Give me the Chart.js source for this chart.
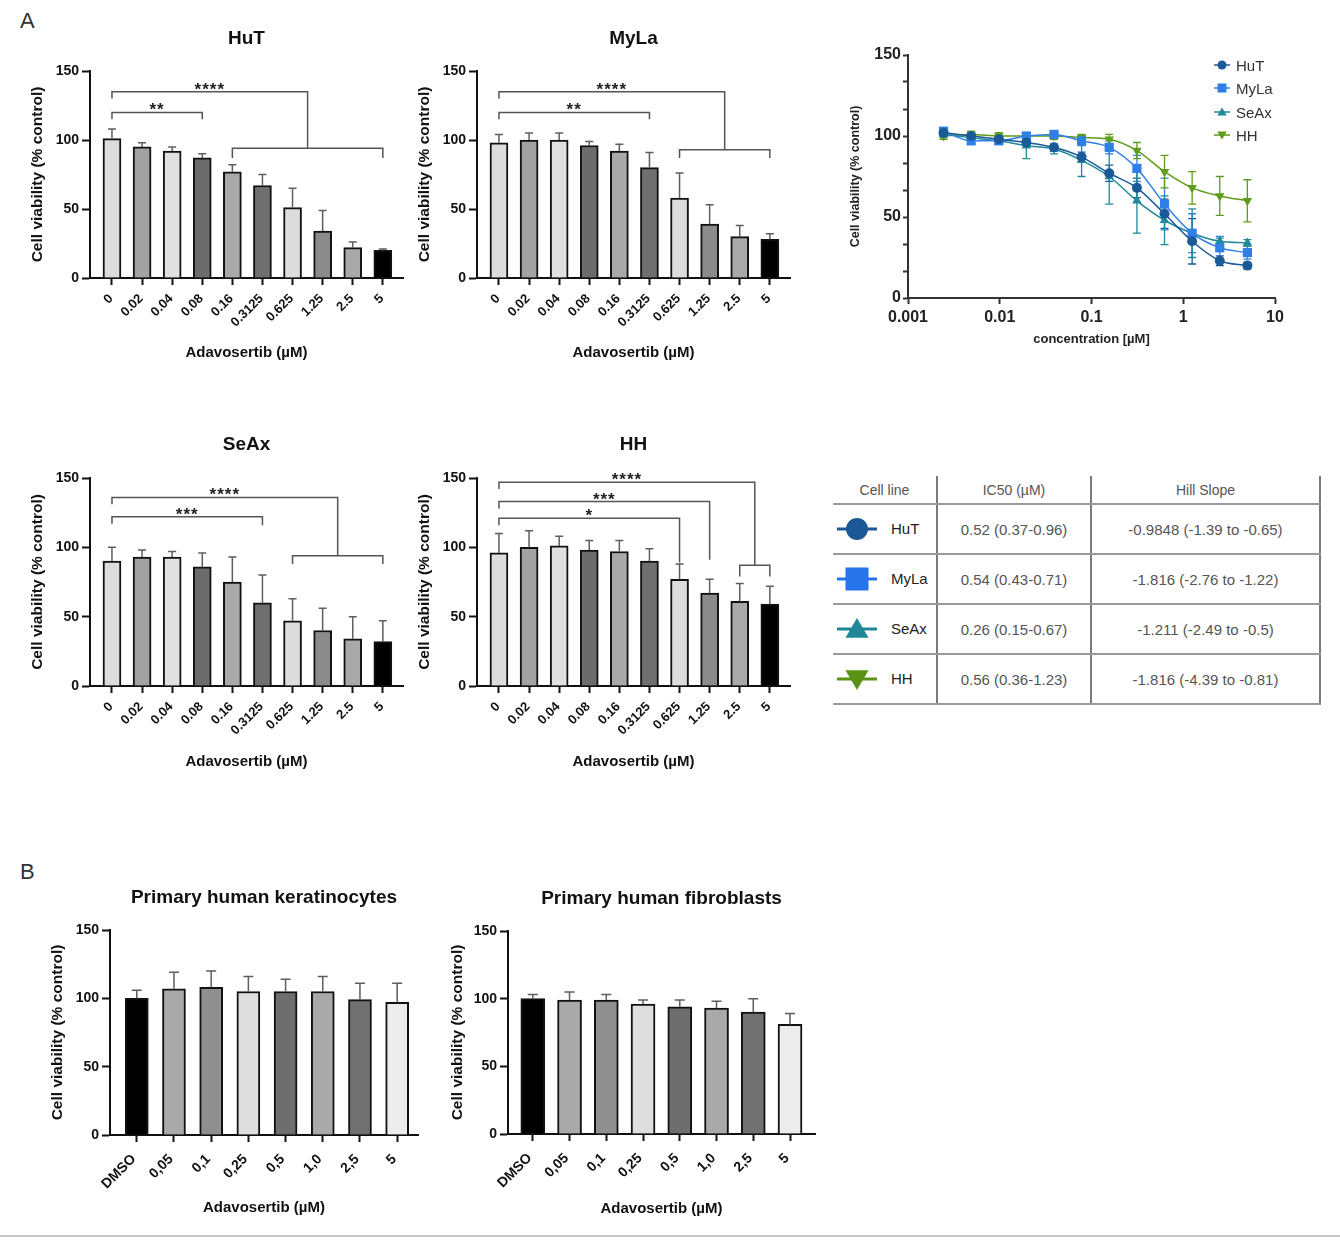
<!DOCTYPE html>
<html><head><meta charset="utf-8">
<script src="https://cdn.jsdelivr.net/npm/chart.js@4.4.1/dist/chart.umd.min.js"></script>
<style>
html,body{margin:0;padding:0;background:#fff;}
body{width:1340px;height:1245px;position:relative;overflow:hidden;font-family:"Liberation Sans",Arial,sans-serif;}
.abs{position:absolute;}
.panel-letter{position:absolute;font-size:22px;color:#333;line-height:22px;}
#tbl{position:absolute;left:833px;top:476px;border-collapse:collapse;table-layout:fixed;}
#tbl td{border-bottom:2px solid #9a9a9a;border-right:2px solid #7a7a7a;padding:0;text-align:center;color:#555;font-size:15px;}
#tbl tr.hd td{height:27px;font-size:14px;color:#555;}
#tbl tr.rw td{height:48px;}
#tbl td.nm{text-align:left;color:#222;}
.lg{position:absolute;left:1211px;height:16px;display:flex;align-items:center;font-size:15px;color:#333;}
.lg span{margin-left:3px;}
</style></head>
<body>
<div class="panel-letter" style="left:20px;top:10px;">A</div>
<div class="panel-letter" style="left:20px;top:861px;">B</div>

<canvas id="cHuT" class="abs" width="420" height="370" style="left:0px;top:0px;"></canvas>
<canvas id="cMyLa" class="abs" width="420" height="370" style="left:387px;top:0px;"></canvas>
<canvas id="cSeAx" class="abs" width="420" height="370" style="left:0px;top:406px;"></canvas>
<canvas id="cHH" class="abs" width="420" height="370" style="left:387px;top:406px;"></canvas>
<canvas id="cDR" class="abs" width="480" height="330" style="left:830px;top:30px;"></canvas>
<div id="legend"></div>
<table id="tbl"></table>
<canvas id="cKer" class="abs" width="440" height="365" style="left:0px;top:860px;"></canvas>
<canvas id="cFib" class="abs" width="400" height="365" style="left:440px;top:860px;"></canvas>
<div class="abs" style="left:0;top:1235px;width:1340px;height:2px;background:#c6c6c6;"></div>

<script>
// ================= DATA =================
const topCats = ['0','0.02','0.04','0.08','0.16','0.3125','0.625','1.25','2.5','5'];
const hutMean  = [101, 95, 92, 87, 77, 67, 51, 34, 22, 20];
const hutSD    = [7, 3, 3, 3, 5, 8, 14, 15, 4, 1];
const mylaMean = [98, 100, 100, 96, 92, 80, 58, 39, 30, 28];
const mylaSD   = [6, 5, 5, 3, 5, 11, 18, 14, 8, 4];
const seaxMean = [90, 93, 93, 86, 75, 60, 47, 40, 34, 32];
const seaxSD   = [10, 5, 4, 10, 18, 20, 16, 16, 16, 15];
const hhMean   = [96, 100, 101, 98, 97, 90, 77, 67, 61, 59];
const hhSD     = [14, 12, 7, 7, 8, 9, 11, 10, 13, 13];
const yTicks = [0, 50, 100, 150];

// significance brackets (category index span, bracket level and leg ends in % units)
const hutSig  = [{from:0,to:3,y:120,l:115,r:115,label:'**'},{from:0,to:6.5,y:135,l:130,r:94,label:'****'},{from:4,to:9,y:94,l:87,r:87,label:''}];
const mylaSig = [{from:0,to:5,y:120,l:115,r:115,label:'**'},{from:0,to:7.5,y:135,l:130,r:93,label:'****'},{from:6,to:9,y:93,l:87,r:87,label:''}];
const seaxSig = [{from:0,to:5,y:122,l:117,r:116,label:'***'},{from:0,to:7.5,y:136,l:131,r:94,label:'****'},{from:6,to:9,y:94,l:88,r:88,label:''}];
const hhSig   = [{from:0,to:6,y:121,l:116,r:89,label:'*'},{from:0,to:7,y:133,l:128,r:91,label:'***'},{from:0,to:8.5,y:147,l:142,r:87,label:'****'},{from:8,to:9,y:87,l:79,r:79,label:''}];

const bottomCats = ['DMSO','0,05','0,1','0,25','0,5','1,0','2,5','5'];
const kerMean = [100, 107, 108, 105, 105, 105, 99, 97];
const kerSD   = [6, 12, 12, 11, 9, 11, 12, 14];
const fibMean = [100, 99, 99, 96, 94, 93, 90, 81];
const fibSD   = [3, 6, 4, 3, 5, 5, 10, 8];

const drConc   = [0.00244, 0.00488, 0.00977, 0.0195, 0.039, 0.078, 0.156, 0.3125, 0.625, 1.25, 2.5, 5];
const drHuT    = [102, 100, 98, 96, 93, 87, 77, 68, 52, 35, 23, 20];
const drHuTSD  = [2, 2, 2, 2, 2, 3, 5, 6, 9, 14, 3, 2];
const drMyLa   = [103, 97, 97, 100, 101, 97, 93, 80, 58, 40, 31, 28];
const drMyLaSD = [2, 2, 2, 2, 2, 3, 4, 8, 16, 12, 7, 4];
const drSeAx   = [101, 99, 97, 94, 92, 85, 75, 60, 48, 40, 35, 34];
const drSeAxSD = [2, 2, 2, 8, 3, 10, 17, 20, 15, 15, 2, 2];
const drHH     = [100, 101, 100, 100, 100, 99, 98, 91, 78, 68, 63, 60];
const drHHSD   = [2, 2, 2, 2, 2, 2, 3, 5, 10, 10, 12, 13];
const drXTicks  = [0.001, 0.01, 0.1, 1, 10];
const drXLabels = ['0.001','0.01','0.1','1','10'];
const drYTicks  = [0, 50/3, 100/3, 50, 200/3, 250/3, 100, 350/3, 400/3, 150];
const drYLabels = ['0','','','50','','','100','','','150'];

const tblHeader = ['Cell line','IC50 (µM)','Hill Slope'];
const tblLines  = ['HuT','MyLa','SeAx','HH'];
const tblIC50   = ['0.52 (0.37-0.96)','0.54 (0.43-0.71)','0.26 (0.15-0.67)','0.56 (0.36-1.23)'];
const tblHill   = ['-0.9848 (-1.39 to -0.65)','-1.816 (-2.76 to -1.22)','-1.211 (-2.49 to -0.5)','-1.816 (-4.39 to -0.81)'];

// ================= STYLES =================
const FONT = '"Liberation Sans", Arial, sans-serif';
const topShades = ['#dcdcdc','#a2a2a2','#e0e0e0','#6c6c6c','#a9a9a9','#6f6f6f','#dcdcdc','#8b8b8b','#a9a9a9','#000000'];
const botShades = ['#000000','#a9a9a9','#8f8f8f','#dedede','#6e6e6e','#a9a9a9','#717171','#ececec'];
const lineColors = {HuT:'#1b5a98', MyLa:'#2f7fe6', SeAx:'#1f8a98', HH:'#5f9c1c'};
const tblColors  = {HuT:'#1c5896', MyLa:'#2673ea', SeAx:'#1f8796', HH:'#5a9215'};
const font = (size, weight) => ({family: FONT, size: size, weight: weight || 'bold'});

// ================= PLUGINS =================
const barErrPlugin = {
  id: 'barErr',
  afterDatasetsDraw(chart) {
    const ctx = chart.ctx, ys = chart.scales.y;
    const ds = chart.data.datasets[0], meta = chart.getDatasetMeta(0);
    ctx.save(); ctx.strokeStyle = '#5e5e5e'; ctx.lineWidth = 1.5;
    meta.data.forEach((el, i) => {
      const top = ys.getPixelForValue(ds.data[i].y + ds.sd[i]);
      ctx.beginPath();
      ctx.moveTo(el.x, el.y); ctx.lineTo(el.x, top);
      ctx.moveTo(el.x - ds.cap, top); ctx.lineTo(el.x + ds.cap, top);
      ctx.stroke();
    });
    ctx.restore();
  }
};
function bracketPlugin(list) {
  return {
    id: 'brackets',
    afterDatasetsDraw(chart) {
      const ctx = chart.ctx, xs = chart.scales.x, ys = chart.scales.y;
      ctx.save(); ctx.strokeStyle = '#555'; ctx.lineWidth = 1.5; ctx.fillStyle = '#222';
      ctx.font = 'bold 17px ' + FONT; ctx.textAlign = 'center'; ctx.textBaseline = 'alphabetic';
      if ('letterSpacing' in ctx) ctx.letterSpacing = '1px';
      list.forEach(b => {
        const x1 = xs.getPixelForValue(b.from), x2 = xs.getPixelForValue(b.to);
        const y = ys.getPixelForValue(b.y);
        ctx.beginPath();
        ctx.moveTo(x1, ys.getPixelForValue(b.l)); ctx.lineTo(x1, y); ctx.lineTo(x2, y); ctx.lineTo(x2, ys.getPixelForValue(b.r));
        ctx.stroke();
        if (b.label) ctx.fillText(b.label, (x1 + x2) / 2, y + 3);
      });
      ctx.restore();
    }
  };
}
const drErrPlugin = {
  id: 'drErr',
  beforeDatasetsDraw(chart) {
    const ctx = chart.ctx, ys = chart.scales.y;
    chart.data.datasets.forEach((ds, di) => {
      const meta = chart.getDatasetMeta(di);
      ctx.save(); ctx.strokeStyle = ds.borderColor; ctx.lineWidth = 1.3;
      meta.data.forEach((el, i) => {
        const v = ds.data[i].y, e = ds.sd[i];
        const hi = ys.getPixelForValue(v + e), lo = ys.getPixelForValue(v - e);
        ctx.beginPath();
        ctx.moveTo(el.x, hi); ctx.lineTo(el.x, lo);
        ctx.moveTo(el.x - 4, hi); ctx.lineTo(el.x + 4, hi);
        ctx.moveTo(el.x - 4, lo); ctx.lineTo(el.x + 4, lo);
        ctx.stroke();
      });
      ctx.restore();
    });
  }
};

// ================= BAR PANELS =================
function barPanel(id, c) {
  return new Chart(document.getElementById(id), {
    type: 'bar',
    data: { datasets: [{
      data: c.means.map((v, i) => ({x: i, y: v})),
      sd: c.sd, cap: c.cap,
      backgroundColor: c.shades, borderColor: '#111', borderWidth: 2,
      barThickness: c.barW, borderSkipped: 'start'
    }]},
    options: {
      responsive: false, animation: false, devicePixelRatio: 1,
      layout: { padding: { left: 0, right: c.padR, top: 0, bottom: 0 } },
      plugins: {
        legend: { display: false }, tooltip: { enabled: false },
        title: { display: true, text: c.title, fullSize: false, color: '#111', font: font(19),
                 padding: { top: c.tTop, bottom: c.tBot } }
      },
      scales: {
        x: {
          type: 'linear', min: c.xmin, max: c.xmax, offset: false,
          afterBuildTicks: s => { s.ticks = c.cats.map((_, i) => ({ value: i })); },
          afterFit: s => { s.height = c.xAxisH; },
          ticks: { autoSkip: false, minRotation: 45, maxRotation: 45, color: '#111', font: font(c.xTick),
                   padding: c.xPad, labelOffset: c.xLblOff, callback: v => c.cats[v] },
          grid: { offset: false, drawOnChartArea: false, drawTicks: true, tickLength: 7, tickColor: '#111', tickWidth: 2, color: '#111' },
          border: { display: true, color: '#111', width: 2 },
          title: { display: true, text: 'Adavosertib (µM)', color: '#111', font: font(15), padding: { top: 0, bottom: c.xtPadB } }
        },
        y: {
          min: 0, max: 150,
          afterBuildTicks: s => { s.ticks = yTicks.map(v => ({ value: v })); },
          afterFit: s => { s.width = c.yAxisW; },
          ticks: { color: '#111', font: font(14), padding: 3 },
          grid: { drawOnChartArea: false, drawTicks: true, tickLength: 8, tickColor: '#111', tickWidth: 2, color: '#111' },
          border: { display: true, color: '#111', width: 2 },
          title: { display: true, text: 'Cell viability (% control)', color: '#111', font: font(15.5), padding: { top: c.ytPad, bottom: 0 } }
        }
      }
    },
    plugins: [barErrPlugin, bracketPlugin(c.sig || [])]
  });
}

const topCommon = { cats: topCats, shades: topShades, barW: 18, cap: 4, padR: 17, yAxisW: 90, xmin: -0.73, xmax: 9.67,
                    xTick: 13, xPad: 6, xLblOff: -1, ytPad: 28.5 };
barPanel('cHuT',  Object.assign({}, topCommon, { title: 'HuT',  means: hutMean,  sd: hutSD,  sig: hutSig,  tTop: 27.6, tBot: 20.6, xAxisH: 92, xtPadB: 8 }));
barPanel('cMyLa', Object.assign({}, topCommon, { title: 'MyLa', means: mylaMean, sd: mylaSD, sig: mylaSig, tTop: 27.6, tBot: 20.6, xAxisH: 92, xtPadB: 8 }));
barPanel('cSeAx', Object.assign({}, topCommon, { title: 'SeAx', means: seaxMean, sd: seaxSD, sig: seaxSig, tTop: 27.6, tBot: 21.6, xAxisH: 90, xtPadB: 5 }));
barPanel('cHH',   Object.assign({}, topCommon, { title: 'HH',   means: hhMean,   sd: hhSD,   sig: hhSig,   tTop: 27.6, tBot: 21.6, xAxisH: 90, xtPadB: 5 }));

barPanel('cKer', { title: 'Primary human keratinocytes', cats: bottomCats, shades: botShades, means: kerMean, sd: kerSD,
  barW: 23, cap: 5, padR: 22, yAxisW: 110, xmin: -0.72, xmax: 7.56, xTick: 14, xPad: 9, xLblOff: -3, ytPad: 48.7,
  tTop: 26.6, tBot: 20.6, xAxisH: 90, xtPadB: 8 });
barPanel('cFib', { title: 'Primary human fibroblasts', cats: bottomCats, shades: botShades, means: fibMean, sd: fibSD,
  barW: 24, cap: 5, padR: 25, yAxisW: 68, xmin: -0.675, xmax: 7.68, xTick: 14, xPad: 9, xLblOff: -3, ytPad: 8.7,
  tTop: 27.6, tBot: 20.6, xAxisH: 91, xtPadB: 7 });

// ================= DOSE-RESPONSE =================
function drSet(name, vals, sd, style, radius, rot) {
  return {
    label: name, data: drConc.map((x, i) => ({ x: x, y: vals[i] })), sd: sd,
    borderColor: lineColors[name], backgroundColor: lineColors[name], borderWidth: 1.5,
    pointStyle: style, pointRadius: radius, pointRotation: rot || 0, pointBorderWidth: 0,
    cubicInterpolationMode: 'monotone', fill: false
  };
}
new Chart(document.getElementById('cDR'), {
  type: 'line',
  data: { datasets: [
    drSet('HuT', drHuT, drHuTSD, 'circle', 5),
    drSet('MyLa', drMyLa, drMyLaSD, 'rect', 6.5),
    drSet('SeAx', drSeAx, drSeAxSD, 'triangle', 5.5),
    drSet('HH', drHH, drHHSD, 'triangle', 5.5, 180)
  ]},
  options: {
    responsive: false, animation: false, devicePixelRatio: 1,
    layout: { padding: { left: 0, right: 35, top: 25, bottom: 0 } },
    plugins: { legend: { display: false }, tooltip: { enabled: false } },
    scales: {
      x: {
        type: 'logarithmic', min: 0.001, max: 10,
        afterBuildTicks: s => { s.ticks = drXTicks.map(v => ({ value: v })); },
        afterFit: s => { s.height = 62; },
        ticks: { autoSkip: false, maxRotation: 0, minRotation: 0, color: '#222', font: font(16), padding: 4,
                 callback: (v, i) => drXLabels[i] },
        grid: { drawOnChartArea: false, drawTicks: true, tickLength: 6, tickColor: '#333', tickWidth: 2, color: '#333' },
        border: { display: true, color: '#333', width: 2 },
        title: { display: true, text: 'concentration [µM]', color: '#222', font: font(13), padding: { top: 0, bottom: 13 } }
      },
      y: {
        min: 0, max: 150,
        afterBuildTicks: s => { s.ticks = drYTicks.map(v => ({ value: v })); },
        afterFit: s => { s.width = 78; },
        ticks: { color: '#222', font: font(16), padding: 2, callback: (v, i) => drYLabels[i] },
        grid: { drawOnChartArea: false, drawTicks: true, tickLength: 5, tickColor: '#333', tickWidth: 2, color: '#333' },
        border: { display: true, color: '#333', width: 2 },
        title: { display: true, text: 'Cell viability (% control)', color: '#222', font: font(12.5), padding: { top: 18, bottom: 0 } }
      }
    }
  },
  plugins: [drErrPlugin]
});

// ================= LEGEND & TABLE =================
function shape(name, cx, cy, r, col) {
  if (name === 'HuT') return `<circle cx="${cx}" cy="${cy}" r="${r}" fill="${col}"/>`;
  if (name === 'MyLa') return `<rect x="${cx - r}" y="${cy - r}" width="${2 * r}" height="${2 * r}" fill="${col}"/>`;
  if (name === 'SeAx') return `<polygon points="${cx},${cy - r} ${cx + r * 1.05},${cy + r * 0.8} ${cx - r * 1.05},${cy + r * 0.8}" fill="${col}"/>`;
  return `<polygon points="${cx},${cy + r} ${cx + r * 1.05},${cy - r * 0.8} ${cx - r * 1.05},${cy - r * 0.8}" fill="${col}"/>`;
}
const legendTops = [57, 80, 104, 127];
const lg = document.getElementById('legend');
tblLines.forEach((n, i) => {
  const col = lineColors[n];
  const d = document.createElement('div');
  d.className = 'lg'; d.style.top = legendTops[i] + 'px';
  d.innerHTML = `<svg width="22" height="16"><line x1="3" y1="8" x2="19" y2="8" stroke="${col}" stroke-width="1.5"/>${shape(n, 11, 8, 4.5, col)}</svg><span>${n}</span>`;
  lg.appendChild(d);
});

const tbl = document.getElementById('tbl');
let html = '<colgroup><col style="width:104px"><col style="width:154px"><col style="width:229px"></colgroup>';
html += '<tr class="hd">' + tblHeader.map(h => `<td>${h}</td>`).join('') + '</tr>';
tblLines.forEach((n, i) => {
  const col = tblColors[n];
  const svg = `<svg width="42" height="30" style="position:absolute;left:4px;top:9px"><line x1="0" y1="15" x2="40" y2="15" stroke="${col}" stroke-width="3"/>${shape(n, 20, 15, n === 'MyLa' ? 11.5 : 11, col)}</svg>`;
  html += `<tr class="rw"><td class="nm" style="position:relative">${svg}<span style="position:absolute;left:58px;top:15px">${n}</span></td><td>${tblIC50[i]}</td><td>${tblHill[i]}</td></tr>`;
});
tbl.innerHTML = html;
</script>
</body></html>
